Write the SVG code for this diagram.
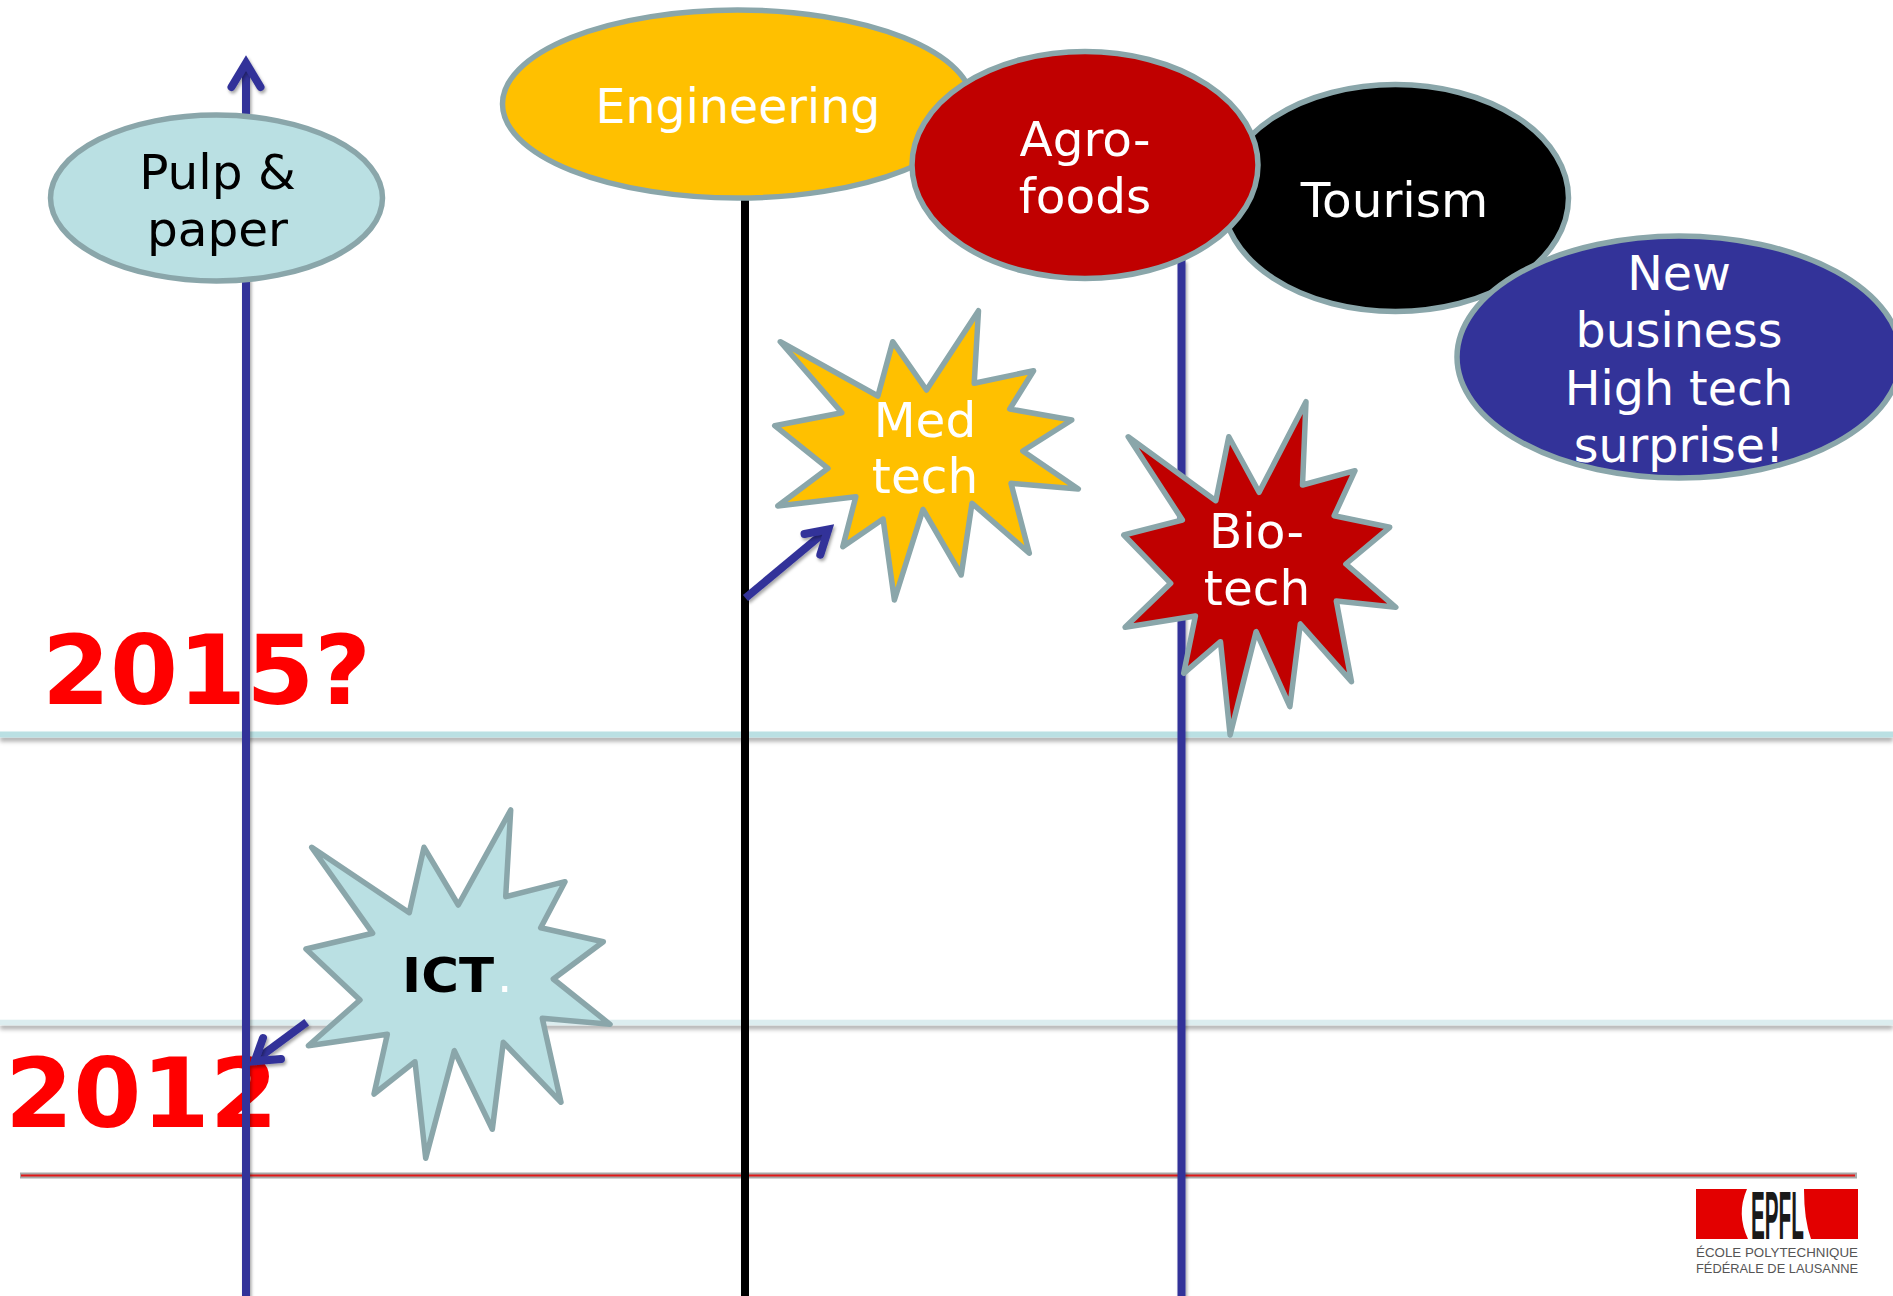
<svg xmlns="http://www.w3.org/2000/svg" width="1893" height="1296" viewBox="0 0 1893 1296">
<style>
text{font-family:"DejaVu Sans","Liberation Sans",sans-serif;font-size:48.500px;text-anchor:middle}
.w{fill:#fff}.k{fill:#000}
.year{font-weight:700;font-size:97px;fill:#f00;text-anchor:start}
.s{stroke:#8aa6aa;stroke-width:5.500;stroke-linejoin:round}
.e{stroke:#8aa6aa;stroke-width:5.500}
.lb{fill:#bae0e3}.or{fill:#ffc000}.rd{fill:#c00000}.bk{fill:#000}.nv{fill:#333399}
.v{stroke:#333399;stroke-width:8;fill:none}
.a{stroke:#333399;stroke-width:8;fill:none;stroke-linecap:round;stroke-linejoin:miter;stroke-miterlimit:6}
.sh{stroke:#333399;stroke-width:8;fill:none}
.logo{font-family:"Liberation Sans",sans-serif;font-size:13px;fill:#555;text-anchor:start}
</style>
<defs>
<filter id="sh" filterUnits="userSpaceOnUse" x="0" y="0" width="1893" height="1296">
<feDropShadow dx="1.500" dy="2.500" stdDeviation="1.800" flood-color="#000" flood-opacity=".35"/>
</filter>
<filter id="shh" filterUnits="userSpaceOnUse" x="0" y="0" width="1893" height="1296">
<feDropShadow dx="0" dy="4" stdDeviation="2" flood-color="#000" flood-opacity=".32"/>
</filter>
</defs>
<rect width="1893" height="1296" fill="#fff"/>
<g id="years">
<text class="year" x="42" y="704" textLength="329" lengthAdjust="spacingAndGlyphs">2015?</text>
<text class="year" x="5" y="1127" textLength="273" lengthAdjust="spacingAndGlyphs">2012</text>
</g>
<g id="connectors">
<line x1="0" y1="734.500" x2="1893" y2="734.500" stroke="#bae0e3" stroke-width="6" filter="url(#shh)"/>
<line x1="0" y1="1022.500" x2="1893" y2="1022.500" stroke="#dcedef" stroke-width="5.500" filter="url(#shh)"/>
<line x1="20" y1="1175.500" x2="1857" y2="1175.500" stroke="#a8a8a8" stroke-width="6"/>
<line x1="21" y1="1175.500" x2="1855" y2="1175.500" stroke="#e01818" stroke-width="2"/>
<line class="v" x1="246" y1="70" x2="246" y2="1296" filter="url(#sh)"/>
<path class="a" d="M231.500 87L246 63L260.500 87" filter="url(#sh)"/>
<line x1="745" y1="190" x2="745" y2="1296" stroke="#000" stroke-width="8"/>
<line class="v" x1="1181.500" y1="260" x2="1181.500" y2="1296" filter="url(#sh)"/>
<path class="sh" d="M745.500 598L826 531" filter="url(#sh)"/>
<path class="a" d="M804.500 534L828.300 529.400L820.300 554.700" filter="url(#sh)"/>
<path class="sh" d="M306.700 1022.300L257 1059" filter="url(#sh)"/>
<path class="a" d="M263 1038L254.700 1061.200L281 1059" filter="url(#sh)"/>
</g>
<g id="node-pulp">
<ellipse class="e lb" cx="216.500" cy="198" rx="166" ry="83"/>
<text class="k" x="217.500" y="189">Pulp &amp;</text>
<text class="k" x="217.500" y="245.500">paper</text>
</g>
<g id="node-engineering">
<ellipse class="e or" cx="737.500" cy="104" rx="235" ry="94"/>
<text class="w" x="738" y="122.500" style="font-size:47.500px">Engineering</text>
</g>
<g id="node-tourism">
<ellipse class="e bk" cx="1395.500" cy="198" rx="173" ry="113.500"/>
<text class="w" x="1394.500" y="216.500">Tourism</text>
</g>
<g id="node-agrofoods">
<ellipse class="e rd" cx="1085" cy="165" rx="173" ry="113.500"/>
<text class="w" x="1085" y="156">Agro-</text>
<text class="w" x="1085" y="212.500">foods</text>
</g>
<g id="node-newbusiness">
<ellipse class="e nv" cx="1679" cy="357" rx="222" ry="121"/>
<text class="w" x="1679" y="289.500" style="font-size:47.500px">New</text>
<text class="w" x="1679" y="347" style="font-size:47.500px">business</text>
<text class="w" x="1679" y="404.500" style="font-size:47.500px">High tech</text>
<text class="w" x="1679" y="462" style="font-size:47.500px">surprise!</text>
</g>
<g id="node-medtech">
<polygon class="s or" points="780.300,341.700 877.900,396 892.700,341.700 926.500,390 978.500,310.700 974.200,383.300 1033.600,370.700 1009.800,409 1071.800,420 1022.800,451 1078.300,489 1011,483.300 1029.300,553.300 972,503.300 961.200,575 923,509.300 894.400,600 883.100,519 842.800,546.700 855.800,496.700 777.700,506 828,468.300 774.700,425.700 841.900,412.700"/>
<text class="w" x="925" y="436.700">Med</text>
<text class="w" x="925" y="493.300">tech</text>
</g>
<g id="node-biotech">
<polygon class="s rd" points="1128.200,436.700 1215.800,500.700 1228.800,436.700 1259.100,492.300 1306,401.700 1302.500,485 1355,470.700 1334.200,515.700 1389.700,527.300 1345.900,564 1395.800,607.300 1336.300,601 1351.500,681.700 1300.300,624 1289.900,706.700 1256.100,631.700 1230.100,735 1220.500,641.700 1183.700,673.300 1195.400,616 1125.100,627.300 1170.700,583.300 1123.800,535 1182.400,520"/>
<text class="w" x="1256.500" y="548">Bio-</text>
<text class="w" x="1257" y="605">tech</text>
</g>
<g id="node-ict">
<polygon class="s lb" points="311.700,847.300 409.300,912.700 424,847.300 458.300,905 510.700,810 505.700,896.700 565,881.700 540.700,927.700 603.300,941.700 553.300,979 610,1024.300 542.300,1018.300 561,1102.300 503.300,1042.300 492.300,1129.300 454.300,1050.700 425.700,1158.300 415,1061.700 374,1094 387.300,1034.300 308.300,1045.700 360,1000 306,949 372.700,933.300"/>
<text x="402" y="992.300" style="text-anchor:start;font-weight:700"><tspan textLength="92" lengthAdjust="spacingAndGlyphs">ICT</tspan><tspan class="w" x="497" font-weight="400">.</tspan></text>
</g>
<g id="logo">
<path d="M1696 1189H1747Q1736 1214 1748 1239H1696Z" fill="#e30000"/>
<path d="M1804 1189Q1804 1220 1811 1239H1858V1189Z" fill="#e30000"/>
<text transform="translate(1751 1239) scale(.3 1)" style="font-family:'Liberation Sans',sans-serif;font-size:69px;font-weight:700;text-anchor:start;fill:#1a1a1a">EPFL</text>
<text class="logo" x="1696" y="1257" textLength="162" lengthAdjust="spacingAndGlyphs">ÉCOLE POLYTECHNIQUE</text>
<text class="logo" x="1696" y="1273" textLength="162" lengthAdjust="spacingAndGlyphs">FÉDÉRALE DE LAUSANNE</text>
</g>
</svg>
